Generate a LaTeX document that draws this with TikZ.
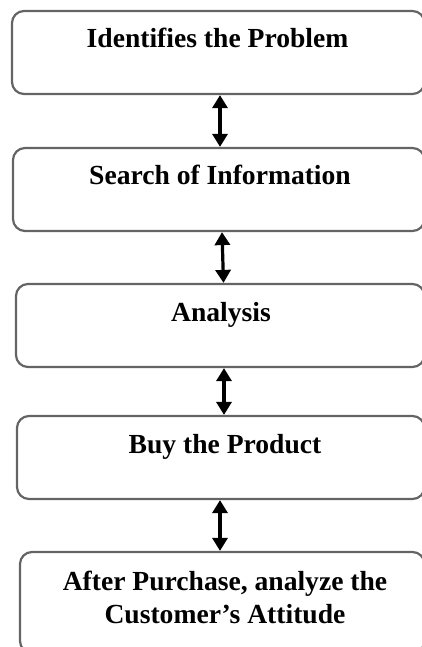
\documentclass[tikz,border=0pt]{standalone}
\usepackage{fontspec}
\setmainfont{Liberation Serif}
\usetikzlibrary{arrows.meta}
\definecolor{boxgray}{RGB}{100,100,100}
\begin{document}
\begin{tikzpicture}[x=1pt,y=-1pt,
  stage/.style={draw=boxgray, line width=2.2pt, rounded corners=12pt,
    inner sep=0pt, minimum height=83pt},
  caption/.style={font=\fontsize{27.6}{33}\selectfont\bfseries,
    inner sep=0pt, text=black, align=center},
  conn/.style={{Triangle[width=15pt,length=13pt]}-{Triangle[width=15pt,length=13pt]},
    line width=3.2pt, black}]
\useasboundingbox (0,0) rectangle (422,647);
\clip (0,0) rectangle (422,647);

% stage boxes (right edges run just past the frame)
\node[stage, minimum width=412.5pt] (b1) at (218.25,52.5) {};
\node[stage, minimum width=411.5pt] (b2) at (218.75,189.5) {};
\node[stage, minimum width=408.5pt] (b3) at (220.25,325.5) {};
\node[stage, minimum width=407.5pt] (b4) at (220.75,457.5) {};
\node[stage, minimum width=404.5pt, minimum height=101pt] (b5) at (222.25,602.5) {};

% stage captions
\node[caption, anchor=base] (t1) at (217.5,48) {Identifies the Problem};
\node[caption, anchor=base] (t2) at (220,185) {Search of Information};
\node[caption, anchor=base] (t3) at (221,321) {Analysis};
\node[caption, anchor=base] (t4) at (225,453) {Buy the Product};
\node[caption, anchor=north] (t5) at (225,571) {After Purchase, analyze the\\Customer’s Attitude};

% two-way links between consecutive stages
\draw[conn] ([xshift=1.75pt]b1.south) -- ([xshift=1.25pt]b2.north);
\draw[conn] ([xshift=3.25pt]b2.south) -- ([xshift=3.25pt]b3.north);
\draw[conn] ([xshift=3.75pt]b3.south) -- ([xshift=3.25pt]b4.north);
\draw[conn] ([xshift=-0.75pt]b4.south) -- ([xshift=-2.25pt]b5.north);
\end{tikzpicture}
\end{document}
